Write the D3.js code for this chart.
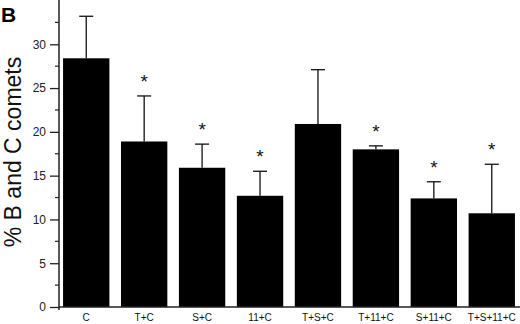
<!DOCTYPE html>
<html>
<head>
<meta charset="utf-8">
<script src="https://cdn.jsdelivr.net/npm/d3@7"></script>
<style>
  body { margin: 0; background: #fff; }
  svg { display: block; font-family: "Liberation Sans", Arial, sans-serif; }
</style>
</head>
<body>
<svg id="chart" width="520" height="324"></svg>
<script>
// data
const groups = ["C", "T+C", "S+C", "11+C", "T+S+C", "T+11+C", "S+11+C", "T+S+11+C"];
const means = [28.4, 18.9, 15.9, 12.7, 20.9, 18.0, 12.4, 10.7];
const errors = [4.8, 5.2, 2.7, 2.8, 6.2, 0.4, 1.9, 5.6];
const significant = [false, true, true, true, false, true, true, true];
const yTicks = [0, 5, 10, 15, 20, 25, 30];

const svg = d3.select("#chart");

const x = d3.scaleBand()
    .domain(groups)
    .range([59, 519])
    .paddingInner(0.2)
    .paddingOuter(0.07);

const y = d3.scaleLinear()
    .domain([0, 35])
    .range([307, 0.5]);

// bars
svg.append("g")
    .selectAll("rect")
    .data(groups)
    .join("rect")
    .attr("x", d => x(d))
    .attr("y", (d, i) => y(means[i]))
    .attr("width", x.bandwidth())
    .attr("height", (d, i) => y(0) - y(means[i]))
    .attr("fill", "#000");

// error bars, upper half only
const err = svg.append("g")
    .attr("stroke", "#111")
    .attr("stroke-width", 1.3);

groups.forEach((g, i) => {
    let cx = x(g) + x.bandwidth() / 2;
    let top = y(means[i] + errors[i]);
    err.append("line")
        .attr("x1", cx).attr("x2", cx)
        .attr("y1", y(means[i])).attr("y2", top);
    err.append("line")
        .attr("x1", cx - 7).attr("x2", cx + 7)
        .attr("y1", top).attr("y2", top);
});

// asterisks
svg.append("g")
    .selectAll("text")
    .data(groups.filter((g, i) => significant[i]))
    .join("text")
    .attr("x", d => x(d) + x.bandwidth() / 2)
    .attr("y", d => {
        let i = groups.indexOf(d);
        return y(means[i] + errors[i]) - 8;
    })
    .attr("text-anchor", "middle")
    .attr("font-size", 19)
    .attr("fill", "#111")
    .text("*");

// y axis
const yAxis = d3.axisLeft(y)
    .tickValues(yTicks)
    .tickSize(9)
    .tickPadding(4);

const gy = svg.append("g")
    .attr("transform", "translate(59,0)")
    .call(yAxis);

gy.select(".domain").remove();
gy.selectAll(".tick line").attr("stroke", "#222").attr("stroke-width", 1.3);
gy.selectAll(".tick text")
    .attr("font-size", 12)
    .attr("fill", "#222");

// minor ticks
svg.append("g")
    .selectAll("line")
    .data(d3.range(2.5, 35, 5))
    .join("line")
    .attr("x1", 55).attr("x2", 59)
    .attr("y1", d => y(d)).attr("y2", d => y(d))
    .attr("stroke", "#222")
    .attr("stroke-width", 1.2);

svg.append("line")
    .attr("x1", 59).attr("x2", 59)
    .attr("y1", 0).attr("y2", 310)
    .attr("stroke", "#222")
    .attr("stroke-width", 1.5);

// x axis
const xAxis = d3.axisBottom(x).tickSize(0).tickPadding(7);
const gx = svg.append("g")
    .attr("transform", "translate(0,307)")
    .call(xAxis);

gx.select(".domain").remove();
gx.selectAll(".tick text")
    .attr("font-size", 10)
    .attr("fill", "#111");

svg.append("line")
    .attr("x1", 59).attr("x2", 520)
    .attr("y1", 307).attr("y2", 307)
    .attr("stroke", "#222")
    .attr("stroke-width", 1.5);

// y label
svg.append("text")
    .attr("transform", "translate(21,152) rotate(-90)")
    .attr("text-anchor", "middle")
    .attr("font-size", 23)
    .attr("fill", "#111")
    .text("% B and C comets");

// panel letter
svg.append("text")
    .attr("x", 1)
    .attr("y", 22)
    .attr("font-size", 21)
    .attr("font-weight", "bold")
    .attr("fill", "#000")
    .text("B");
</script>
</body>
</html>
